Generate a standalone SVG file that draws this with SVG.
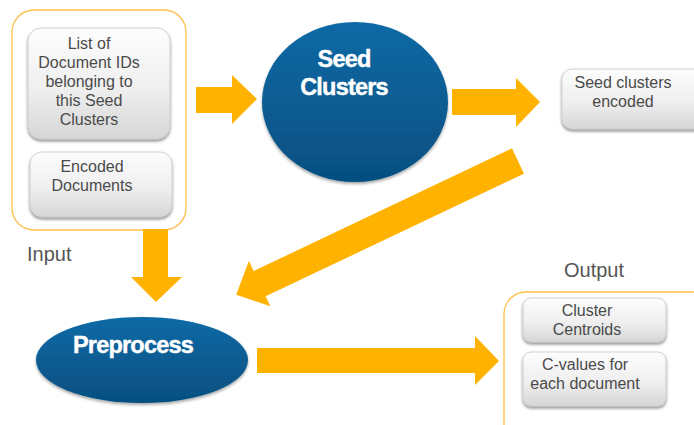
<svg xmlns="http://www.w3.org/2000/svg" width="694" height="425" viewBox="0 0 694 425">
<style>
.box{fill:url(#gbox);stroke:#c8c8c8;stroke-width:0.8;filter:url(#sh)}
.cont{fill:none;stroke:#FDBF4A;stroke-width:1.3}
.arr{fill:#FFB300}
.t{font-family:"Liberation Sans",Arial,sans-serif;font-size:16px;fill:#4a4a4a;text-anchor:middle}
.lbl{font-family:"Liberation Sans",Arial,sans-serif;font-size:20px;fill:#555;}
.bt{font-family:"Liberation Sans",Arial,sans-serif;font-weight:bold;font-size:23.5px;fill:#fff;text-anchor:middle;letter-spacing:-0.8px;stroke:#fff;stroke-width:0.4}
.blue{fill:url(#gblue);filter:url(#sh2)}
</style>
<defs>
<linearGradient id="gbox" x1="0" y1="0" x2="0" y2="1">
<stop offset="0" stop-color="#fdfdfd"/><stop offset="0.55" stop-color="#efefef"/><stop offset="1" stop-color="#d6d6d6"/>
</linearGradient>
<linearGradient id="gblue" x1="0" y1="0" x2="0" y2="1">
<stop offset="0" stop-color="#0b6aa6"/><stop offset="1" stop-color="#064f80"/>
</linearGradient>
<filter id="sh" x="-10%" y="-10%" width="125%" height="130%">
<feGaussianBlur in="SourceAlpha" stdDeviation="1.6"/><feOffset dx="0" dy="2" result="b"/>
<feComponentTransfer><feFuncA type="linear" slope="0.45"/></feComponentTransfer>
<feMerge><feMergeNode/><feMergeNode in="SourceGraphic"/></feMerge>
</filter>
<filter id="sh2" x="-10%" y="-10%" width="120%" height="125%">
<feGaussianBlur in="SourceAlpha" stdDeviation="1.5"/><feOffset dx="0" dy="2"/>
<feComponentTransfer><feFuncA type="linear" slope="0.35"/></feComponentTransfer>
<feMerge><feMergeNode/><feMergeNode in="SourceGraphic"/></feMerge>
</filter>
</defs>
<rect width="694" height="425" fill="#fff"/>

<g id="input">
<rect class="cont" x="12" y="10" width="174" height="220" rx="22"/>
<g id="doc-ids">
<rect class="box" x="28" y="28" width="142" height="111" rx="13"/>
<text class="t" x="89" y="49">List of</text>
<text class="t" x="89" y="68">Document IDs</text>
<text class="t" x="89" y="87">belonging to</text>
<text class="t" x="89" y="106">this Seed</text>
<text class="t" x="89" y="125">Clusters</text>
</g>
<g id="encoded-docs">
<rect class="box" x="30" y="152" width="142" height="65" rx="12"/>
<text class="t" x="92" y="172">Encoded</text>
<text class="t" x="92" y="191">Documents</text>
</g>
<text class="lbl" x="27" y="261">Input</text>
</g>

<g id="seed-clusters">
<ellipse class="blue" cx="355" cy="102" rx="93" ry="80"/>
<text class="bt" x="344" y="67">Seed</text>
<text class="bt" x="344" y="95">Clusters</text>
</g>

<g id="seed-encoded">
<rect class="box" x="562" y="69" width="150" height="60" rx="10"/>
<text class="t" x="623" y="88">Seed clusters</text>
<text class="t" x="623" y="107">encoded</text>
</g>

<g id="preprocess">
<ellipse class="blue" cx="142" cy="360" rx="106" ry="43"/>
<text class="bt" x="133" y="353">Preprocess</text>
</g>

<g id="output">
<rect class="cont" x="504" y="292" width="210" height="160" rx="22"/>
<text class="lbl" x="594" y="277" text-anchor="middle">Output</text>
<g id="centroids">
<rect class="box" x="523" y="298" width="143" height="44" rx="8"/>
<text class="t" x="587" y="316">Cluster</text>
<text class="t" x="587" y="335">Centroids</text>
</g>
<g id="cvalues">
<rect class="box" x="523" y="352" width="143" height="54" rx="8"/>
<text class="t" x="585" y="370">C-values for</text>
<text class="t" x="585" y="389">each document</text>
</g>
</g>

<g id="connectors">
<polygon class="arr" points="196,87 232,87 232,75 257,99 232,124 232,113 196,113"/>
<polygon class="arr" points="452,89 516,89 516,78 540,102 516,127 516,115 452,115"/>
<polygon class="arr" points="0,-14 286,-14 286,-25 312,0 286,25 286,14 0,14" transform="translate(518,161) rotate(154.6)"/>
<polygon class="arr" points="143,229 168,229 168,277 182,277 156,302 131,277 143,277"/>
<polygon class="arr" points="257,348 475,348 475,336 499,361 475,385 475,373 257,373"/>
</g>
</svg>
